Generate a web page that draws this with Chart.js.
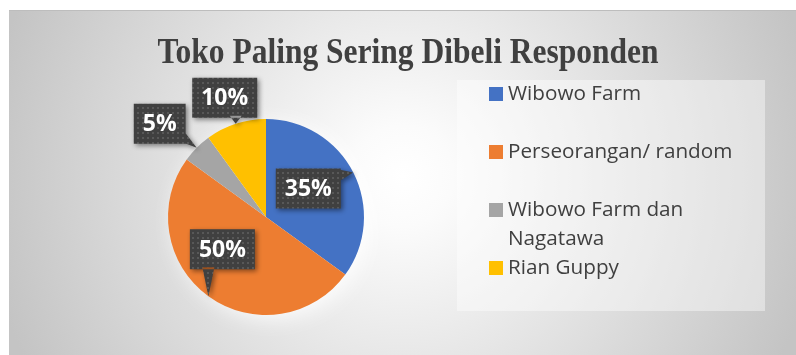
<!DOCTYPE html>
<html>
<head>
<meta charset="utf-8">
<script src="https://cdn.jsdelivr.net/npm/chart.js@4.4.1/dist/chart.umd.min.js"></script>
<style>
  html, body { margin: 0; padding: 0; background: #fff; }
  #wrap { position: relative; width: 796px; height: 355px; overflow: hidden; }
  #bg {
    position: absolute; left: 9px; top: 10px; right: 0; bottom: 0;
    border-top: 1px solid #bdbdbd;
    background: radial-gradient(circle 420px at 50% 48%, #ffffff 0%, #fbfbfb 12%, #c4c4c4 100%);
  }
  canvas { position: absolute; left: 0; top: 0; }
</style>
</head>
<body>
<div id="wrap"><div id="bg"></div><canvas id="chart" width="796" height="355"></canvas></div>
<script>
const judul = 'Toko Paling Sering Dibeli Responden';
const toko = ['Wibowo Farm', 'Perseorangan/ random', 'Wibowo Farm dan Nagatawa', 'Rian Guppy'];
const persen = [35, 50, 5, 10];
const warna = ['#4472C4', '#ED7D31', '#A5A5A5', '#FFC000'];
// geser kotak label dari ujung penunjuk (px)
const geserLabel = [[-45, 16], [14, -47], [-37, -24], [-11, -26]];

const teks = '#404040';

function polaGelap(ctx) {
  const c = document.createElement('canvas');
  c.width = 5; c.height = 5;
  const g = c.getContext('2d');
  g.fillStyle = '#404040';
  g.fillRect(0, 0, 5, 5);
  g.fillStyle = '#585858';
  g.fillRect(2, 2, 2, 2);
  return ctx.createPattern(c, 'repeat');
}

const judulPlugin = {
  id: 'judul',
  afterDraw(chart) {
    const ctx = chart.ctx;
    ctx.save();
    ctx.fillStyle = teks;
    ctx.font = 'bold 35px "Liberation Serif", "Times New Roman", serif';
    ctx.textAlign = 'center';
    ctx.textBaseline = 'alphabetic';
    ctx.translate(408, 63);
    ctx.scale(0.9, 1);
    ctx.fillText(judul, 0, 0);
    ctx.restore();
  }
};

const halo = {
  id: 'halo',
  beforeDatasetsDraw(chart) {
    const arc = chart.getDatasetMeta(0).data[0];
    if (!arc) return;
    const ctx = chart.ctx;
    ctx.save();
    ctx.shadowColor = 'rgba(255,255,255,0.9)';
    ctx.shadowBlur = 22;
    ctx.shadowOffsetX = 6;
    ctx.shadowOffsetY = 4;
    ctx.fillStyle = '#ffffff';
    ctx.beginPath();
    ctx.arc(arc.x, arc.y, arc.outerRadius - 1, 0, Math.PI * 2);
    ctx.fill();
    ctx.restore();
  }
};

const callout = {
  id: 'callout',
  afterDatasetsDraw(chart) {
    const ctx = chart.ctx;
    const pola = polaGelap(ctx);
    chart.getDatasetMeta(0).data.forEach((arc, i) => {
      const p = arc.getProps(['x', 'y', 'startAngle', 'endAngle', 'outerRadius'], true);
      const mid = (p.startAngle + p.endAngle) / 2;
      const tx = p.x + Math.cos(mid) * p.outerRadius;
      const ty = p.y + Math.sin(mid) * p.outerRadius;
      const label = persen[i] + '%';
      ctx.save();
      ctx.font = 'bold 23px "Open Sans", sans-serif';
      const w = ctx.measureText(label).width + 18, h = 40;
      const cx = tx + geserLabel[i][0], cy = ty + geserLabel[i][1];
      const l = cx - w / 2, t = cy - h / 2, r = l + w, b = t + h;
      let b1, b2;
      if (tx < l || tx > r) {
        const ex = tx < l ? l + 2 : r - 2;
        const py = Math.min(Math.max(ty, t + 7), b - 7);
        b1 = [ex, py - 6]; b2 = [ex, py + 6];
      } else {
        const ey = ty < t ? t + 2 : b - 2;
        const px = Math.min(Math.max(tx, l + 7), r - 7);
        b1 = [px - 6, ey]; b2 = [px + 6, ey];
      }
      ctx.shadowColor = 'rgba(0,0,0,0.45)';
      ctx.shadowBlur = 5;
      ctx.shadowOffsetX = 2;
      ctx.shadowOffsetY = 2;
      ctx.fillStyle = pola;
      ctx.beginPath();
      ctx.rect(l, t, w, h);
      ctx.moveTo(b1[0], b1[1]);
      ctx.lineTo(tx, ty);
      ctx.lineTo(b2[0], b2[1]);
      ctx.closePath();
      ctx.fill('nonzero');
      ctx.shadowColor = 'transparent';
      ctx.fillStyle = '#ffffff';
      ctx.textAlign = 'center';
      ctx.textBaseline = 'middle';
      ctx.fillText(label, cx, cy + 1);
      ctx.restore();
    });
  }
};

const legenda = {
  id: 'legenda',
  afterDraw(chart) {
    const ctx = chart.ctx;
    ctx.save();
    ctx.fillStyle = 'rgba(255,255,255,0.42)';
    ctx.fillRect(457, 80, 308, 231);
    ctx.font = '20.7px "Open Sans", sans-serif';
    ctx.textBaseline = 'middle';
    const bg = chart.data.datasets[0].backgroundColor;
    chart.data.labels.forEach((nama, i) => {
      const y0 = 94 + i * 58;
      const baris = [];
      let cur = '';
      nama.split(' ').forEach(k => {
        const coba = cur ? cur + ' ' + k : k;
        if (ctx.measureText(coba).width > 250 && cur) { baris.push(cur); cur = k; }
        else cur = coba;
      });
      baris.push(cur);
      ctx.fillStyle = bg[i];
      ctx.fillRect(489, y0 - 7, 14, 14);
      ctx.fillStyle = teks;
      baris.forEach((s, j) => ctx.fillText(s, 508, y0 + j * 29));
    });
    ctx.restore();
  }
};

new Chart(document.getElementById('chart'), {
  type: 'pie',
  data: {
    labels: toko,
    datasets: [{ data: persen, backgroundColor: warna, borderWidth: 0 }]
  },
  options: {
    responsive: false,
    animation: false,
    layout: { padding: { left: 168, right: 432, top: 119, bottom: 40 } },
    plugins: { legend: { display: false }, tooltip: { enabled: false }, title: { display: false } }
  },
  plugins: [halo, callout, legenda, judulPlugin]
});
</script>
</body>
</html>
